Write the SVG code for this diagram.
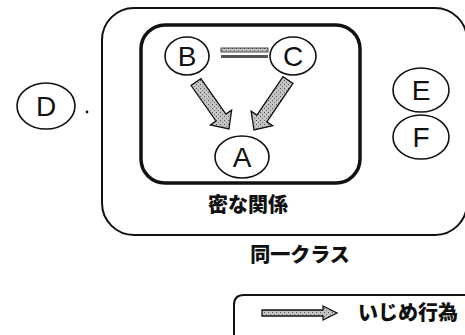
<svg xmlns="http://www.w3.org/2000/svg" width="465" height="335" viewBox="0 0 465 335">
<style>
.node ellipse{fill:#fff;stroke:#111;stroke-width:1.6}
.node text{font-family:"Liberation Sans",Arial,sans-serif;font-size:28px;fill:#111;text-anchor:middle}
.jp{font-family:"Noto Sans CJK JP",sans-serif;font-weight:900;fill:#111;text-anchor:middle}
.arrow{fill:url(#stip);stroke:#111;stroke-width:1.3;stroke-linejoin:miter}
</style>
<defs>
<pattern id="stip" width="4" height="4" patternUnits="userSpaceOnUse">
<rect width="4" height="4" fill="#c4c4c4"/>
<rect x="0" y="0" width="1" height="1" fill="#555"/>
<rect x="2" y="2" width="1" height="1" fill="#777"/>
</pattern>
</defs>
<rect width="465" height="335" fill="#fff"/>
<g id="class-box">
<rect x="102" y="8" width="365" height="227" rx="32" ry="32" fill="none" stroke="#111" stroke-width="2"/>
<text class="jp" x="300" y="262" font-size="20">同一クラス</text>
</g>
<g id="close-box">
<rect x="141" y="25" width="219" height="158" rx="24" ry="24" fill="none" stroke="#111" stroke-width="3.5"/>
<text class="jp" x="248" y="212" font-size="20">密な関係</text>
</g>
<g id="connectors">
<rect x="221" y="48" width="47" height="4" fill="url(#stip)" stroke="#222" stroke-width="0.8"/>
<rect x="221" y="55" width="47" height="3" fill="#555"/>
<polygon class="arrow" points="200.9,78.6 225.9,114.1 231.6,110.1 229,129 210.3,125.0 216.0,121.0 191.1,85.5"/>
<polygon class="arrow" points="292.96,83.37 266.83,121.79 272.6,125.7 254,130 251.1,111.1 256.9,115.05 283.04,76.63"/>
</g>
<g id="node-B" class="node"><ellipse cx="187" cy="56" rx="22" ry="19"/><text x="187" y="66">B</text></g>
<g id="node-C" class="node"><ellipse cx="293" cy="56" rx="23" ry="19"/><text x="293" y="66">C</text></g>
<g id="node-A" class="node"><ellipse cx="242" cy="157" rx="27" ry="21"/><text x="242" y="167">A</text></g>
<g id="node-D" class="node"><ellipse cx="46" cy="106" rx="29" ry="23"/><text x="46" y="116">D</text></g>
<circle cx="87" cy="112" r="1.4" fill="#111"/>
<g id="node-E" class="node"><ellipse cx="421" cy="90" rx="28" ry="22"/><text x="421" y="100">E</text></g>
<g id="node-F" class="node"><ellipse cx="421" cy="137" rx="28" ry="22"/><text x="421" y="147">F</text></g>
<g id="legend">
<path d="M234,335 V305 Q234,295 244,295 H465" fill="none" stroke="#111" stroke-width="2"/>
<polygon class="arrow" points="262,310 323,310 323,306 337,313 323,320 323,316 262,316"/>
<text class="jp" x="408" y="320" font-size="20">いじめ行為</text>
</g>
</svg>
